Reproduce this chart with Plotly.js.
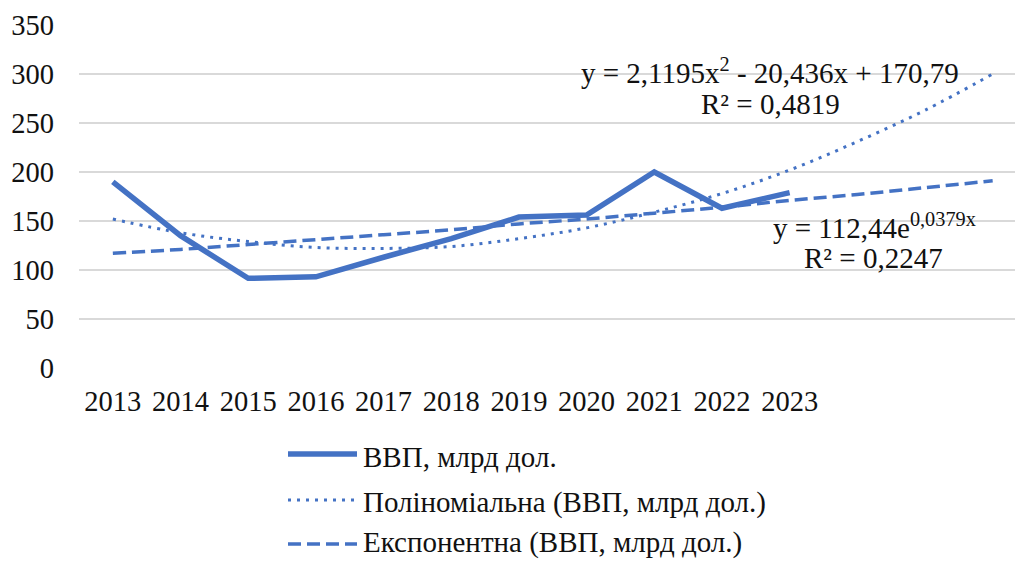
<!DOCTYPE html>
<html>
<head>
<meta charset="utf-8">
<script src="https://cdn.plot.ly/plotly-3.0.1.min.js"></script>
<style>
html,body{margin:0;padding:0;background:#fff;overflow:hidden;}
#chart{width:1015px;height:561px;}
</style>
</head>
<body>
<div id="chart"></div>
<script>
// Data
const years = [2013, 2014, 2015, 2016, 2017, 2018, 2019, 2020, 2021, 2022, 2023];
const gdp = [190, 135, 91.5, 93, 113, 132, 154, 156, 200, 163, 179];
const trendYears = [2013, 2014, 2015, 2016, 2017, 2018, 2019, 2020, 2021, 2022, 2023, 2024, 2025, 2026];
const polyTrend = [152, 138, 129, 123, 122, 124, 132, 143, 159, 178, 202, 231, 263, 300];
const expTrend = [117, 121, 126, 131, 136, 141, 147, 152, 158, 164, 171, 177, 184, 191];
const yTicks = [0, 50, 100, 150, 200, 250, 300, 350];
const seriesNames = ['ВВП, млрд дол.', 'Поліноміальна (ВВП, млрд дол.)', 'Експонентна (ВВП, млрд дол.)'];
const polyEqLine = 'y = 2,1195x<sup>2</sup> - 20,436x + 170,79';
const polyR2 = 'R² = 0,4819';
const expEqLine = 'y = 112,44e<sup>0,0379x</sup>';
const expR2 = 'R² = 0,2247';

const blue = '#4472C4';
const font = "'Liberation Serif', 'Times New Roman', serif";
const tfs = 28.5, afs = 29;
const txt = '#111';

const traces = [
  {x: trendYears, y: polyTrend, type: 'scatter', mode: 'lines', name: seriesNames[1],
   line: {color: blue, width: 3, dash: '3px,6px', shape: 'spline'}, showlegend: false},
  {x: trendYears, y: expTrend, type: 'scatter', mode: 'lines', name: seriesNames[2],
   line: {color: blue, width: 3.5, dash: '13px,6px', shape: 'spline'}, showlegend: false},
  {x: years, y: gdp, type: 'scatter', mode: 'lines', name: seriesNames[0],
   line: {color: blue, width: 5.5}, showlegend: false}
];

const W = 1015, H = 561, ML = 79, MT = 25, MB = 193;
const plotW = W - ML, plotH = H - MT - MB;
function px2x(px) { return (px - ML) / plotW; }
function py2y(py) { return 1 - (py - MT) / plotH; }
function ann(text, px, py, anchor) {
  return {xref: 'paper', yref: 'paper', x: px2x(px), y: py2y(py), text: text,
    showarrow: false, xanchor: anchor || 'center', yanchor: 'middle',
    font: {family: font, size: afs, color: txt}, align: 'center'};
}

const layout = {
  width: W, height: H,
  margin: {l: ML, r: 0, t: MT, b: MB},
  paper_bgcolor: '#fff', plot_bgcolor: '#fff',
  font: {family: font, size: afs, color: txt},
  xaxis: {range: [2012.5, 2026.33], tickvals: years, ticktext: years.map(String),
    showgrid: false, zeroline: false, showline: false, ticks: '',
    tickfont: {family: font, size: tfs, color: txt}, ticklabelstandoff: 13},
  yaxis: {range: [0, 350], tickvals: yTicks,
    showgrid: true, gridcolor: '#d9d9d9', gridwidth: 1.5, zeroline: false, showline: false, ticks: '',
    tickfont: {family: font, size: tfs, color: txt}, ticklabelstandoff: 24},
  showlegend: false,
  annotations: [
    ann(polyEqLine, 770, 71),
    ann(polyR2, 770, 104),
    ann(expEqLine, 874, 226),
    ann(expR2, 873, 258)
  ],
  shapes: []
};
// Custom legend with long line samples like the reference
const legendY = [454, 500, 544];
const legendTextY = [457, 502, 542];
const legendDash = ['solid', '3px,6px', '13px,6px'];
const legendW = [5.5, 3, 3.5];
for (let i = 0; i < 3; i++) {
  layout.shapes.push({type: 'line', xref: 'paper', yref: 'paper',
    x0: px2x(288), x1: px2x(357), y0: py2y(legendY[i]), y1: py2y(legendY[i]),
    line: {color: blue, width: legendW[i], dash: legendDash[i]}});
  layout.annotations.push(ann(seriesNames[i], 361, legendTextY[i], 'left'));
}
Plotly.newPlot('chart', traces, layout, {displayModeBar: false, staticPlot: true});
</script>
</body>
</html>
